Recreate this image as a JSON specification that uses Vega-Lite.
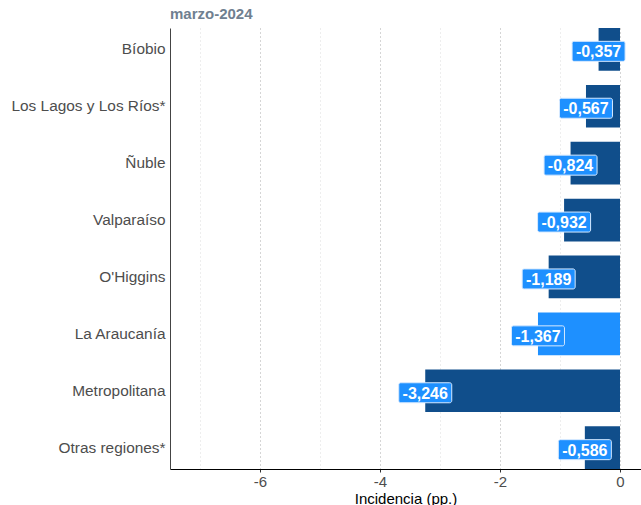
{
  "$schema": "https://vega.github.io/schema/vega-lite/v6.json",
  "width": 471,
  "height": 441,
  "autosize": {"type": "none"},
  "padding": {"left": 170, "top": 28, "right": 0, "bottom": 36},
  "title": {
    "text": "marzo-2024",
    "anchor": "start",
    "frame": "group",
    "fontSize": 15,
    "fontWeight": "bold",
    "color": "#708090",
    "font": "Liberation Sans",
    "offset": 6
  },
  "data": {
    "values": [
      {"region": "Bíobio", "incidencia": -0.357, "grupo": "resto"},
      {"region": "Los Lagos y Los Ríos*", "incidencia": -0.567, "grupo": "resto"},
      {"region": "Ñuble", "incidencia": -0.824, "grupo": "resto"},
      {"region": "Valparaíso", "incidencia": -0.932, "grupo": "resto"},
      {"region": "O'Higgins", "incidencia": -1.189, "grupo": "resto"},
      {"region": "La Araucanía", "incidencia": -1.367, "grupo": "destacada"},
      {"region": "Metropolitana", "incidencia": -3.246, "grupo": "resto"},
      {"region": "Otras regiones*", "incidencia": -0.586, "grupo": "resto"}
    ]
  },
  "encoding": {
    "y": {
      "field": "region",
      "type": "nominal",
      "sort": null,
      "title": null,
      "scale": {"paddingInner": 0.25, "paddingOuter": 0},
      "axis": {
        "domainColor": "#444444",
        "domainWidth": 1,
        "ticks": false,
        "labelPadding": 5,
        "labelFontSize": 15.4,
        "labelColor": "#4d4d4d",
        "labelFont": "Liberation Sans",
        "grid": false
      }
    },
    "x": {
      "field": "incidencia",
      "type": "quantitative",
      "title": "Incidencia (pp.)",
      "scale": {"domain": [-7.5, 0.35], "nice": false, "zero": false},
      "axis": {
        "values": [-7, -6, -5, -4, -3, -2, -1, 0],
        "labelExpr": "datum.value % 2 === 0 ? datum.label : ''",
        "format": ".0f",
        "domainColor": "#000000",
        "domainWidth": 1,
        "tickColor": "#333333",
        "tickSize": {"condition": {"test": "datum.value % 2 !== 0", "value": 0}, "value": 3},
        "labelFontSize": 15,
        "labelColor": "#4d4d4d",
        "labelFont": "Liberation Sans",
        "labelPadding": 2,
        "titleFontSize": 15,
        "titleFontWeight": "normal",
        "titleColor": "#000000",
        "titleFont": "Liberation Sans",
        "titlePadding": 2,
        "grid": true,
        "gridDash": [1, 3],
        "gridWidth": 1,
        "gridColor": {"condition": {"test": "datum.value % 2 !== 0", "value": "#dddddd"}, "value": "#aaaaaa"}
      }
    }
  },
  "layer": [
    {
      "mark": {"type": "bar"},
      "encoding": {
        "color": {
          "field": "grupo",
          "type": "nominal",
          "scale": {"domain": ["resto", "destacada"], "range": ["#104E8B", "#1E90FF"]},
          "legend": null
        }
      }
    },
    {
      "mark": {
        "type": "rect",
        "width": 53,
        "height": 20,
        "cornerRadius": 2,
        "fill": "#1E90FF",
        "stroke": "#d6e9ff",
        "strokeWidth": 1,
        "yOffset": 2
      }
    },
    {
      "mark": {
        "type": "text",
        "color": "#ffffff",
        "fontSize": 16,
        "fontWeight": "bold",
        "font": "Liberation Sans",
        "align": "center",
        "baseline": "middle",
        "dy": 3
      },
      "encoding": {
        "text": {"field": "incidencia", "type": "quantitative", "format": ".3f"}
      }
    }
  ],
  "config": {
    "view": {"stroke": null},
    "locale": {
      "number": {
        "decimal": ",",
        "thousands": ".",
        "grouping": [3],
        "currency": ["$", ""],
        "minus": "-"
      }
    }
  }
}
